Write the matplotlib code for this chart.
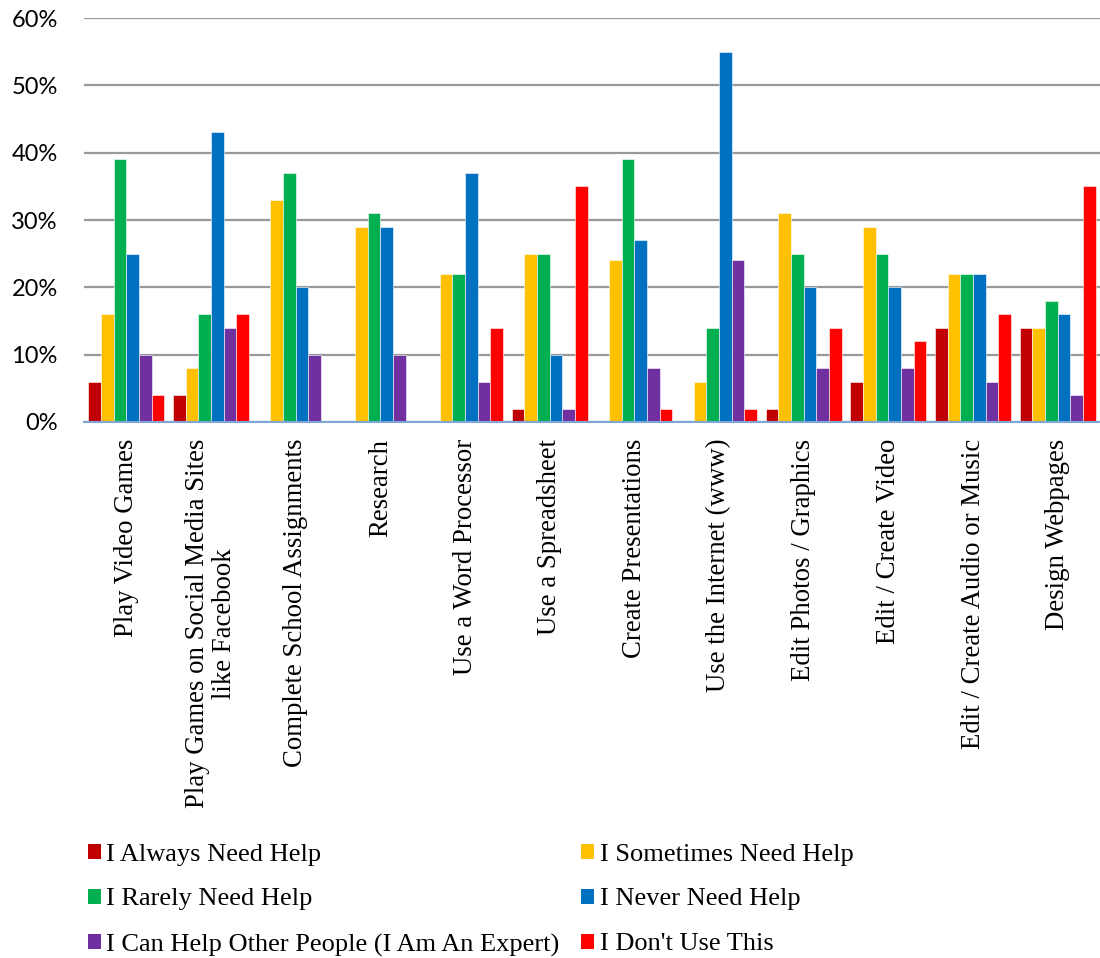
import matplotlib
matplotlib.use("Agg")
import matplotlib.pyplot as plt
import numpy as np
from matplotlib.patches import Patch
from matplotlib.ticker import FuncFormatter

categories = [
    "Play Video Games",
    "Play Games on Social Media Sites\nlike Facebook",
    "Complete School Assignments",
    "Research",
    "Use a Word Processor",
    "Use a Spreadsheet",
    "Create Presentations",
    "Use the Internet (www)",
    "Edit Photos / Graphics",
    "Edit / Create Video",
    "Edit / Create Audio or Music",
    "Design Webpages",
]

series_names = [
    "I Always Need Help",
    "I Sometimes Need Help",
    "I Rarely Need Help",
    "I Never Need Help",
    "I Can Help Other People (I Am An Expert)",
    "I Don't Use This",
]

always_help = [6, 4, 0, 0, 0, 2, 0, 0, 2, 6, 14, 14]
sometimes_help = [16, 8, 33, 29, 22, 25, 24, 6, 31, 29, 22, 14]
rarely_help = [39, 16, 37, 31, 22, 25, 39, 14, 25, 25, 22, 18]
never_help = [25, 43, 20, 29, 37, 10, 27, 55, 20, 20, 22, 16]
expert = [10, 14, 10, 10, 6, 2, 8, 24, 8, 8, 6, 4]
dont_use = [4, 16, 0, 0, 14, 35, 2, 2, 14, 12, 16, 35]

series_values = [always_help, sometimes_help, rarely_help, never_help, expert, dont_use]
colors = ["#C00000", "#FFC000", "#00B050", "#0070C0", "#7030A0", "#FF0000"]

fig = plt.figure(figsize=(11, 9.58), dpi=100)
ax = fig.add_axes([0.0764, 0.5595, 0.9236, 0.4217])

n_groups = len(categories)
n_series = len(series_values)
bar_w = 0.15
x = np.arange(n_groups)
offsets = (np.arange(n_series) - (n_series - 1) / 2) * bar_w

for vals, off, col in zip(series_values, offsets, colors):
    ax.bar(x + off, vals, width=bar_w, color=col, edgecolor="white",
           linewidth=0.4, zorder=3)

ax.set_xlim(-0.5, n_groups - 0.5)
ax.set_ylim(0, 60)
ax.set_yticks(range(0, 61, 10))
ax.yaxis.set_major_formatter(FuncFormatter(lambda v, p: f"{int(v)}%"))
ax.grid(axis="y", color="#999999", linewidth=1.6, zorder=0)
ax.set_axisbelow(True)

for s in ["left", "right", "top"]:
    ax.spines[s].set_visible(False)
ax.spines["bottom"].set_color("#7FA6D6")
ax.spines["bottom"].set_linewidth(1.5)
ax.spines["bottom"].set_zorder(4)

ax.tick_params(axis="y", length=0, pad=19, labelsize=17)
for lab in ax.get_yticklabels():
    lab.set_fontfamily("Lato")

ax.set_xticks(x)
ax.set_xticklabels(categories, rotation=90, fontfamily="Liberation Serif",
                   fontsize=19.3, ha="center", va="top", multialignment="center",
                   linespacing=1.1)
ax.tick_params(axis="x", length=0, pad=12)

handles = [Patch(facecolor=c, edgecolor="none") for c in colors]
order = [0, 2, 4, 1, 3, 5]
fig.legend([handles[i] for i in order], [series_names[i] for i in order],
           ncol=2, loc="upper left", bbox_to_anchor=(0.070, 0.1305),
           frameon=False, prop={"family": "Liberation Serif", "size": 19},
           handlelength=0.5, handleheight=0.5, handletextpad=0.2,
           columnspacing=0.83, labelspacing=0.87, borderaxespad=0)

fig.savefig("out.png", dpi=100, facecolor="white")
